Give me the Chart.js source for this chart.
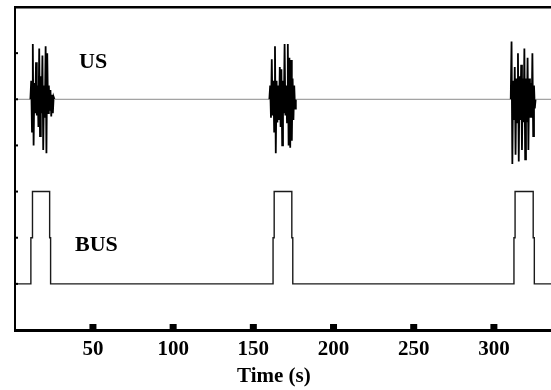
<!DOCTYPE html>
<html>
<head>
<meta charset="utf-8">
<script src="https://cdn.jsdelivr.net/npm/chart.js@4.4.1/dist/chart.umd.min.js"></script>
<style>
  body { margin: 0; background: #fff; }
  canvas { display: block; }
</style>
</head>
<body>
<canvas id="myChart" width="551" height="390"></canvas>
<script>
// axis ticks
const xTicks = [50, 100, 150, 200, 250, 300];
const yTicks = [1, 2, 3, 4, 5, 6];

// US trace: baseline level and three bursts (offsets from baseline)
const usBase = 5;
const usStep = 0.5;
const usStarts = [11.5, 160.5, 311];
const usBurst1 = [0.4, -0.7, 1.2, -1.0, 0.35, -0.3, 0.8, -0.35, 0.3, -0.6, 1.1, -0.8, 0.5, -0.3, 0.95,
    -1.1, 0.3, -0.4, 1.15, -1.17, 1.0, -0.3, 0.3, -0.25, 0.2, -0.37, 0.1, -0.3, 0.05];
const usBurst2 = [0.3, -0.4, 0.87, -0.35, 0.4, -0.7, 1.15, -1.17, 0.4, -0.5, 0.3, -0.45, 0.7, -0.6, 0.65,
    -1.0, 0.4, -0.3, 1.2, -0.35, 0.3, -0.5, 1.2, -1.0, 0.9, -1.05, 0.85, -0.9, 0.45, -0.45, 0.3, -0.2];
const usBurst3 = [1.25, -1.4, 0.4, -0.45, 0.7, -1.2, 0.45, -0.5, 1.0, -1.35, 0.5, -0.45, 0.75, -1.1, 0.45,
    -0.5, 1.1, -1.3, 0.45, -0.5, 0.9, -1.1, 0.45, -0.4, 0.35, -0.4, 1.0, -0.8, 0.3, -0.2];

// BUS trace: stepped pulses
const busTime = [1.4, 11.3, 11.3, 12.3, 12.3, 23, 23, 23.6, 23.6,
    162.3, 162.3, 163, 163, 174, 174, 174.6, 174.6,
    312.5, 312.5, 313.2, 313.2, 324.5, 324.5, 325.2, 325.2, 335.6];
const busLevel = [1, 1, 2, 2, 3, 3, 2, 2, 1,
    1, 2, 2, 3, 3, 2, 2, 1,
    1, 2, 2, 3, 3, 2, 2, 1, 1];

const usBursts = [usBurst1, usBurst2, usBurst3];
const usPoints = [{x: 1.4, y: usBase}];
usBursts.forEach((b, k) => {
    const t0 = usStarts[k];
    usPoints.push({x: t0 - usStep, y: usBase});
    b.forEach((v, i) => usPoints.push({x: t0 + i * usStep, y: usBase + v}));
    usPoints.push({x: t0 + b.length * usStep, y: usBase});
});
usPoints.push({x: 335.6, y: usBase});

const busPoints = busTime.map((t, i) => ({x: t, y: busLevel[i]}));

const serif = '"Liberation Serif", "Times New Roman", serif';
const onBase = c => c.p0.parsed.y === usBase && c.p1.parsed.y === usBase;

const frame = {
    id: 'frame',
    afterDraw(chart) {
        const {ctx, chartArea: a, scales: {x, y}} = chart;
        ctx.save();
        ctx.fillStyle = '#000';
        ctx.fillRect(a.left - 1, a.top - 1, a.right - a.left + 1, 2.5);
        xTicks.forEach(v => {
            const px = x.getPixelForValue(v);
            ctx.fillRect(px - 3.5, a.bottom - 6, 7, 6);
        });
        yTicks.forEach(v => {
            const py = y.getPixelForValue(v);
            ctx.fillRect(a.left, py - 1, 3, 2);
        });
        ctx.font = 'bold 22px ' + serif;
        ctx.textBaseline = 'middle';
        ctx.fillText('US', x.getPixelForValue(41.3), y.getPixelForValue(5.8));
        ctx.fillText('BUS', x.getPixelForValue(38.8), y.getPixelForValue(1.84));
        // axis title, centred under t ≈ 163 as in the source figure
        ctx.font = 'bold 21px ' + serif;
        ctx.textAlign = 'center';
        ctx.fillText('Time (s)', x.getPixelForValue(162.8), 377);
        ctx.restore();
    }
};

new Chart('myChart', {
    type: 'line',
    data: {
        datasets: [{
            label: 'US',
            data: usPoints,
            borderColor: '#000',
            borderWidth: 1.8,
            pointRadius: 0,
            segment: {
                borderColor: c => onBase(c) ? '#8a8a8a' : '#000',
                borderWidth: c => onBase(c) ? 1 : 1.8
            }
        }, {
            label: 'BUS',
            data: busPoints,
            borderColor: '#1a1a1a',
            borderWidth: 1.4,
            pointRadius: 0
        }]
    },
    options: {
        responsive: false,
        animation: false,
        layout: { padding: { top: 7, right: 0, left: 0, bottom: 0 } },
        plugins: { legend: { display: false }, tooltip: { enabled: false } },
        scales: {
            x: {
                type: 'linear',
                min: 1.4,
                max: 335.6,
                afterFit: s => { s.height = 60; },
                afterBuildTicks: s => { s.ticks = xTicks.map(v => ({value: v})); },
                grid: { display: false, drawTicks: false },
                border: { display: true, color: '#000', width: 3 },
                ticks: {
                    color: '#000',
                    padding: 7,
                    maxRotation: 0,
                    font: { family: serif, size: 21, weight: 'bold' }
                },
                title: { display: false }
            },
            y: {
                min: 0,
                max: 7,
                afterFit: s => { s.width = 15; },
                grid: { display: false, drawTicks: false },
                border: { display: true, color: '#000', width: 2 },
                ticks: { display: false }
            }
        }
    },
    plugins: [frame]
});
</script>
</body>
</html>
